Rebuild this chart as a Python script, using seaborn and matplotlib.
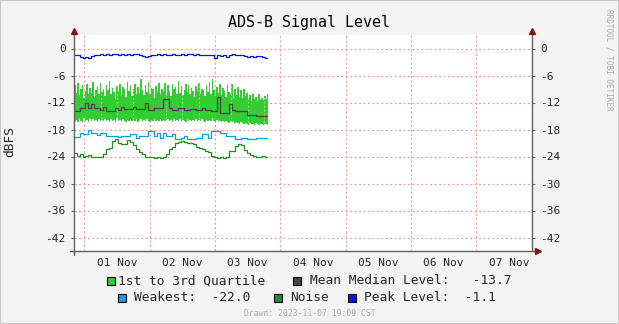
import numpy as np
import pandas as pd
import matplotlib
matplotlib.use('Agg')
import matplotlib.pyplot as plt
from matplotlib.patches import Rectangle
import seaborn as sns

# ---------------- data ----------------
start_time = '2023-10-31 20:35'
step = '66min'        # line series sampling
band_step = '33min'   # quartile band sampling

peak = [-1.4, -1.5, -1.8, -2.1, -1.9, -2.0, -1.7, -1.4, -1.4, -1.3, -1.4, -1.3, -1.4, -1.3, -1.3, -1.4,
        -1.3, -1.5, -1.3, -1.4, -1.3, -1.3, -1.4, -1.7, -1.8, -1.6, -1.5, -1.4, -1.3, -1.4, -1.3, -1.4,
        -1.4, -1.3, -1.5, -1.4, -1.3, -1.4, -1.3, -1.3, -1.4, -1.3, -1.4, -1.4, -1.4, -1.4, -1.4, -2.1,
        -1.5, -1.6, -1.4, -1.9, -1.5, -1.3, -1.4, -1.4, -1.5, -1.7, -1.8, -1.7, -1.8, -1.7, -1.7, -1.8, -2.2]

q_upper = [-8.2, -9.8, -7.6, -10.4, -9.0, -8.0, -11.0, -9.4, -7.9, -10.2, -8.7, -9.9, -7.4, -10.8, -9.2, -8.4, -10.1, -7.7, -9.6, -8.9,
           -10.6, -8.1, -9.3, -7.2, -10.0, -8.8, -9.7, -11.2, -8.3, -9.5, -7.8, -10.3, -8.6, -9.1, -10.7, -7.5, -9.4, -8.2, -10.5, -9.0,
           -7.9, -10.1, -8.5, -9.8, -6.8, -9.3, -10.4, -8.0, -9.6, -7.4, -10.2, -8.7, -9.0, -11.0, -8.4, -9.7, -7.6, -10.0, -8.9, -9.5,
           -7.7, -10.3, -8.2, -9.4, -10.6, -7.9, -9.1, -8.6, -10.0, -7.3, -9.8, -8.4, -10.4, -9.2, -7.8, -9.6, -8.1, -10.2, -8.8, -9.4,
           -10.7, -8.3, -9.5, -7.6, -10.1, -8.9, -9.3, -10.5, -8.0, -9.7, -7.4, -10.0, -6.8, -9.2, -10.6, -8.6, -9.9, -7.9, -10.3, -8.7,
           -9.4, -10.8, -8.2, -9.6, -10.2, -7.8, -10.9, -9.1, -10.4, -8.6, -10.7, -9.3, -11.0, -8.9, -10.5, -9.8,
           -11.2, -10.4, -11.6, -10.0, -11.3, -10.8, -11.7, -10.2, -11.4, -10.9, -11.5, -10.6, -11.2, -10.0]

q_lower = [-16.2, -15.8, -16.4, -15.6, -16.0, -16.3, -15.5, -16.1, -15.9, -16.4, -15.7, -16.0, -15.6, -16.2, -15.9, -16.3, -15.7, -16.1, -15.8, -16.0,
           -15.6, -16.2, -15.9, -16.4, -15.7, -16.0, -15.8, -16.3, -15.5, -16.1, -15.9, -16.2, -15.7, -16.0, -16.3, -15.8, -16.1, -15.6, -16.2, -15.9,
           -16.0, -15.7, -16.3, -15.9, -15.6, -16.1, -15.8, -16.2, -15.7, -16.0, -16.3, -15.8, -16.1, -15.6, -16.0, -15.9, -16.2, -15.7, -16.1, -15.8,
           -16.2, -15.9, -15.6, -16.1, -15.8, -16.3, -15.7, -16.0, -15.9, -16.2, -15.6, -16.1, -15.8, -16.0, -16.3, -15.7, -16.1, -15.9, -16.2, -15.8,
           -16.0, -15.7, -16.2, -15.9, -16.1, -15.6, -16.0, -16.3, -15.8, -16.1, -15.9, -16.2, -15.5, -16.0, -16.4, -15.9, -16.2, -16.0, -16.3, -16.1,
           -16.4, -16.0, -16.3, -16.5, -16.1, -16.4, -16.2, -16.6, -16.3, -16.5, -16.7, -16.4, -16.6, -16.8, -16.5, -16.7,
           -16.9, -16.6, -16.8, -16.7, -16.9, -16.6, -16.8, -16.9, -16.7, -16.8, -16.9, -16.7, -16.8, -16.9]

median = [-13.8, -13.8, -13.2, -13.2, -12.1, -13.2, -12.4, -13.2, -13.2, -13.6, -12.9, -13.8, -13.8, -13.8, -13.2, -13.6,
          -12.9, -13.4, -13.4, -13.4, -12.9, -13.4, -13.4, -13.4, -12.1, -13.6, -13.6, -13.2, -13.2, -13.2, -11.3, -11.3,
          -13.2, -13.6, -13.6, -13.2, -13.2, -13.6, -13.6, -13.4, -13.4, -13.6, -13.6, -13.2, -13.6, -13.6, -13.9, -13.9,
          -10.8, -14.3, -14.3, -14.3, -12.4, -13.6, -13.9, -13.9, -13.9, -13.9, -14.8, -14.8, -14.8, -15.0, -15.0, -15.0, -14.9]

weakest = [-19.7, -19.7, -18.7, -19.0, -19.0, -18.0, -18.7, -18.7, -19.3, -18.7, -18.7, -19.5, -19.5, -19.5, -19.5, -19.7,
           -19.5, -19.5, -19.5, -19.0, -19.0, -19.9, -19.5, -19.5, -19.5, -18.4, -18.4, -19.5, -18.7, -19.9, -18.7, -19.5,
           -19.5, -19.0, -20.2, -20.2, -19.9, -19.5, -20.2, -20.2, -20.2, -19.9, -19.9, -19.0, -19.0, -19.9, -18.4, -18.4,
           -18.4, -18.7, -18.7, -19.5, -19.5, -19.5, -20.2, -20.2, -19.9, -19.9, -20.2, -20.2, -20.2, -19.9, -19.9, -19.9, -19.9]

noise = [-23.3, -23.8, -23.5, -24.0, -23.8, -23.6, -24.0, -24.1, -24.1, -24.0, -23.5, -22.4, -22.0, -20.5, -20.2, -20.9,
         -21.2, -21.3, -20.3, -20.8, -21.5, -22.3, -22.9, -23.5, -24.0, -24.1, -24.2, -24.3, -24.2, -24.3, -24.1, -23.5,
         -22.4, -21.8, -21.0, -20.8, -20.5, -20.7, -20.9, -21.0, -21.3, -21.8, -22.1, -22.4, -22.8, -23.1, -23.8, -24.1,
         -24.3, -24.2, -24.3, -24.1, -22.8, -22.8, -21.7, -21.3, -21.5, -22.6, -23.3, -23.6, -23.8, -24.0, -24.0, -23.9, -24.0]

y_ticks = [0, -6, -12, -18, -24, -30, -36, -42]
day_labels = ['01 Nov', '02 Nov', '03 Nov', '04 Nov', '05 Nov', '06 Nov', '07 Nov']
title = 'ADS-B Signal Level'
y_label = 'dBFS'
legend_row1 = ['1st to 3rd Quartile', 'Mean Median Level:   -13.7']
legend_row2 = ['Weakest:  -22.0', 'Noise', 'Peak Level:  -1.1']
drawn_text = 'Drawn: 2023-11-07 19:09 CST'
side_text = 'RRDTOOL / TOBI OETIKER'

# ---------------- styling ----------------
C_QUART = '#33CC33'
C_MEDIAN = '#444444'
C_WEAK = '#0A9EE8'
C_NOISE = '#238B23'
C_PEAK = '#0014F0'
BG = '#F3F3F3'
GRID = '#F2A0A0'
AXC = '#606060'
ARROW = '#8B1010'
MONO = 'DejaVu Sans Mono'

sns.set_style('white')
plt.rcParams['font.family'] = [MONO, 'DejaVu Sans']

times = pd.date_range(start_time, periods=len(peak), freq=step)
df = pd.DataFrame({'time': times, 'peak': peak, 'median': median, 'weakest': weakest, 'noise': noise})
band_times = pd.date_range(start_time, periods=len(q_upper), freq=band_step)
band = pd.DataFrame({'time': band_times, 'upper': q_upper, 'lower': q_lower})

W, H = 619, 324
fig = plt.figure(figsize=(W / 100, H / 100), dpi=100, facecolor=BG)
ax = fig.add_axes([74 / W, 73 / H, 458 / W, 216 / H])
ax.set_facecolor('white')

nov1 = pd.Timestamp('2023-11-01 00:00')
x0 = nov1 - pd.Timedelta(days=0.158)
x1 = nov1 + pd.Timedelta(days=6.856)

# band
ax.fill_between(band['time'], band['lower'], band['upper'], step='mid', color=C_QUART, lw=0, zorder=2)

# minor 6h grid drawn over the band (faint)
for t in pd.date_range('2023-10-31 18:00', '2023-11-07 18:00', freq='6h'):
    if t.hour != 0:
        ax.axvline(t, color='white', alpha=0.45, lw=0.7, ls=(0, (2, 2)), zorder=2.5)

sns.lineplot(data=df, x='time', y='median', ax=ax, color=C_MEDIAN, lw=0.9, drawstyle='steps-mid', zorder=3)
sns.lineplot(data=df, x='time', y='weakest', ax=ax, color=C_WEAK, lw=0.9, drawstyle='steps-mid', zorder=3)
sns.lineplot(data=df, x='time', y='noise', ax=ax, color=C_NOISE, lw=0.9, drawstyle='steps-mid', zorder=3)
sns.lineplot(data=df, x='time', y='peak', ax=ax, color=C_PEAK, lw=0.9, drawstyle='steps-mid', zorder=3)

ax.set_xlim(x0, x1)
ax.set_ylim(-45, 3)
ax.set_xlabel('')
ax.set_ylabel('')

# x ticks: labels at noon, grid + tick marks at midnight
day_starts = pd.date_range('2023-11-01', periods=len(day_labels), freq='D')
noons = day_starts + pd.Timedelta(hours=12)
ax.set_xticks(noons)
ax.set_xticklabels(day_labels, fontsize=8, family=MONO)
ax.set_xticks(day_starts, minor=True)
ax.tick_params(axis='x', which='major', length=0, pad=5)
ax.tick_params(axis='x', which='minor', length=3, width=0.8, color=AXC, direction='out')

ax.set_yticks(y_ticks)
ax.set_yticklabels([str(v) for v in y_ticks], fontsize=8, family=MONO)
ax.tick_params(axis='y', which='major', left=True, right=True, labelleft=True, labelright=True,
               length=2, width=0.8, color=AXC, pad=4)

ax.grid(False)
for t in day_starts:
    ax.axvline(t, color=GRID, lw=0.8, ls=(0, (2, 2)), zorder=1)
for v in y_ticks:
    ax.axhline(v, color=GRID, lw=0.8, ls=(0, (2, 2)), zorder=1)

for s in ax.spines.values():
    s.set_visible(False)

# axis lines with arrows (rrdtool look)
tr = ax.transAxes
ax.plot([0, 0], [-0.018, 1.0], color=AXC, lw=1.0, transform=tr, clip_on=False, zorder=4)
ax.plot([1, 1], [0, 1.0], color=AXC, lw=1.0, transform=tr, clip_on=False, zorder=4)
ax.plot([-0.009, 1.01], [0, 0], color=AXC, lw=1.0, transform=tr, clip_on=False, zorder=4)
ax.plot([0], [1.018], marker='^', ms=4.2, color=ARROW, transform=tr, clip_on=False, zorder=5)
ax.plot([1], [1.018], marker='^', ms=4.2, color=ARROW, transform=tr, clip_on=False, zorder=5)
ax.plot([1.014], [0], marker='>', ms=4.2, color=ARROW, transform=tr, clip_on=False, zorder=5)

# texts
fig.text(309.5 / W, 1 - 23 / H, title, ha='center', va='center', fontsize=10.8, family=MONO, color='black')
fig.text(10 / W, 1 - 142 / H, y_label, ha='center', va='center', rotation=90, fontsize=9.3, family=MONO)
fig.text(609.5 / W, 1 - 60 / H, side_text, ha='center', va='center', rotation=-90, fontsize=5.5,
         family=MONO, color='#AAAAAA')
fig.text(309.5 / W, 1 - 313 / H, drawn_text, ha='center', va='center', fontsize=5.8, family=MONO,
         color='#AAAAAA')

def legend_item(xbox, xtext, yc, color, label):
    fig.patches.append(Rectangle(((xbox) / W, 1 - (yc + 4) / H), 8 / W, 8 / H, transform=fig.transFigure,
                                 facecolor=color, edgecolor='black', lw=0.8, figure=fig))
    fig.text(xtext / W, 1 - yc / H, label, ha='left', va='center', fontsize=9.3, family=MONO)

legend_item(106.5, 117.5, 281, C_QUART, legend_row1[0])
legend_item(292.5, 310, 281, C_MEDIAN, legend_row1[1])
legend_item(117.5, 134, 297.5, C_WEAK, legend_row2[0])
legend_item(273.5, 290, 297.5, C_NOISE, legend_row2[1])
legend_item(347.5, 364, 297.5, C_PEAK, legend_row2[2])

# frame border
fig.patches.append(Rectangle((0, 0), 1, 1, transform=fig.transFigure, fill=False,
                             edgecolor='#C8C8C8', lw=1.5, figure=fig))

fig.savefig('out.png', dpi=100, facecolor=BG)
